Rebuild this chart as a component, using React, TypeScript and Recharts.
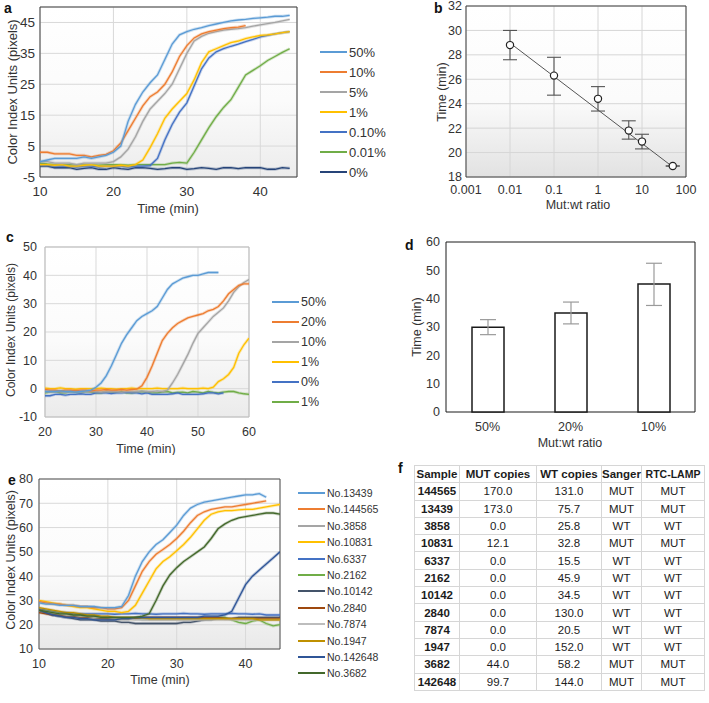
import React from 'react';
import {
  LineChart, Line, XAxis, YAxis, CartesianGrid, ReferenceArea,
  ComposedChart, Scatter, ErrorBar, BarChart, Bar,
} from 'recharts';

const FONT = '"Liberation Sans", Arial, Helvetica, sans-serif';
const TXT = '#333333';

// ---------- Panel a ----------
const timeA = [10,11,12,13,14,15,16,17,18,19,20,21,22,23,24,25,26,27,28,29,30,31,32,33,34,35,36,37,38,39,40,41,42,43,44];
const a50 = [0,0.5,1,1,1,1,1.5,1,1.5,2, 3,5,13,18.5,22.5,25.5,28,33,38,41, 42,42.8,43.3,44,44.5,45,45.5,45.8,46,46.3, 46.5,46.7,47,47,47.3];
const a10 = [3,3,2.5,2.5,2.5,2,2,1.5,2,2.3, 3.5,6,10,14,18,21,22.5,25,29,34, 37.5,40,41.3,42,42.5,43,43.3,43.5,44,null, null,null,null,null,null];
const a5 = [0,0,-0.5,-0.5,-0.5,-1,-0.5,-0.5,-0.5,-0.5, 0,1.5,4,8,13,17,19.5,22,25,30, 35,39,40.5,41.5,42,42.5,42.8,43,43.3,43.8, 44.2,44.6,45,45.5,46];
const a1 = [-1,-1,-1.2,-1,-1.5,-1.5,-1.2,-1,-1.5,-1.5, -1.5,-1.2,-1.5,-1,0.5,4.5,9,14,17,19.5, 22,26.5,32,35.5,36.5,37.5,38.5,39,39.8,40.3, 40.8,41,41.3,41.7,42];
const a01 = [-1,-1.2,-1.5,-1.5,-1.5,-1.8,-1.5,-1.5,-1.8,-1.5, -1.5,-1.5,-1.8,-1.5,-1.5,-1.3,1,7,12,16, 19,24.5,30,33.5,35.5,36.5,37.3,38,38.8,39.5, 40.3,40.8,41.3,41.7,42];
const a001 = [-0.5,-0.8,-1,-1,-1,-1.2,-1,-1,-1.2,-1, -1,-1,-1.2,-1,-1,-1,-1,-1,-0.5,-0.3, -0.5,3,7,11,14.5,17.5,20,24,28,29.5, 31,32.7,34,35.3,36.5];
const a0 = [-1.5,-1.5,-2,-2,-2,-2.5,-2.2,-2,-2.5,-2.5, -2,-2.3,-2.5,-2,-2,-2.2,-2.5,-2.3,-2,-2, -2.5,-2.3,-2,-2.2,-2.5,-2,-2,-2.3,-2,-2, -2,-2.5,-2.5,-2,-2.2];
const namesA = ['50%','10%','5%','1%','0.10%','0.01%','0%'];
const colorsA = ['#5B9BD5','#ED7D31','#A5A5A5','#FFC000','#4472C4','#70AD47','#264478'];
const valuesA = [a50,a10,a5,a1,a01,a001,a0];
const yTicksA = [-5,5,15,25,35,45];
const xTicksA = [10,20,30,40];

// ---------- Panel b ----------
const ratioB = [0.01,0.1,1,5,10,50];
const timeB = [28.8,26.3,24.4,21.8,20.9,18.9];
const errLowB = [1.2,1.6,1.0,0.7,0.6,0];
const errHighB = [1.2,1.5,1.0,0.8,0.6,0];
const trendXB = [0.01,50];
const trendYB = [28.97,18.83];
const xTicksB = [0.001,0.01,0.1,1,10,100];
const yTicksB = [18,20,22,24,26,28,30,32];

// ---------- Panel c ----------
const timeC = [20,21,22,23,24,25,26,27,28,29,30,31,32,33,34,35,36,37,38,39,40,41,42,43,44,45,46,47,48,49,50,51,52,53,54,55,56,57,58,59,60];
const c50 = [-1,-1,-1,-0.8,-1,-1,-1.2,-1,-0.8,-0.5, 0.5,2,4.5,8,12,16,19,21.5,24,25.5, 26.5,27.5,29,32,35,37,38,39,39.5,40, 40,40.5,41,41,41,null,null,null,null,null,null];
const c20 = [-0.3,-0.5,-0.5,-0.8,-0.5,-0.5,-0.7,-0.5,-0.5,-0.8, -0.5,-0.5,-0.3,-0.5,-0.5,-0.3,-0.5,-0.3,-0.2,1, 4,8,12.5,17,19.5,21.5,23,24,25,25.5, 26,26.5,27.5,28,29,31,33.5,35,36.5,37,37];
const c10 = [-1,-1.2,-1,-1,-1.3,-1,-1,-1.2,-1,-1, -1,-1.2,-1,-1,-1,-1.2,-1,-1,-1,-0.8, -1,-1,-0.8,-1,-0.5,2,5,8.5,12,16, 19.5,21.5,23.5,25.5,27,28.5,31,34,36,37.5,38.5];
const c1 = [0.2,0,0,0.3,0,0,-0.2,0,0,0, 0,0.2,0,0,-0.2,0,0,0.2,0,0, 0,0,0.2,0,0,0,0,0.2,0,0, 0,0.2,0,0.5,2.5,3.5,5,7.5,12.5,15.5,17.8];
const c0 = [-2.5,-2.5,-2,-2,-2.3,-2,-2,-1.8,-2,-2, -1.5,-1.5,-1.5,-1.7,-1.5,-1.5,-1.3,-1.5,-1.5,-1.8, -1.5,-2,-2,-2,-2,-1.8,-1.5,-2,-2,-2, -2,-1.8,-1.5,-1.5,-1.8,-1.5,null,null,null,null,null];
const c1g = [-1.5,-1.2,-1,-1.5,-1.5,-1,-1.3,-1.5,-1,-1.2, -1.5,-1.5,-1,-1.2,-1.3,-1,-1.5,-1.5,-1.2,-1, -1.3,-1.5,-1.5,-1.2,-1,-1.5,-1.3,-1.2,-1.5,-1, -1.2,-1.5,-1,-1.3,-1.5,-1.2,-1,-1,-1.5,-1.8,-2];
const namesC = ['50%','20%','10%','1%','0%','1%'];
const colorsC = ['#5B9BD5','#ED7D31','#A5A5A5','#FFC000','#4472C4','#70AD47'];
const valuesC = [c50,c20,c10,c1,c0,c1g];
const yTicksC = [-10,0,10,20,30,40,50];
const xTicksC = [20,30,40,50,60];

// ---------- Panel d ----------
const labelsD = ['50%','20%','10%'];
const timeD = [29.9,34.9,45.2];
const errLowD = [2.6,3.8,7.6];
const errHighD = [2.7,3.9,7.3];
const yTicksD = [0,10,20,30,40,50,60];

// ---------- Panel e ----------
const timeE = [10,11,12,13,14,15,16,17,18,19,20,21,22,23,24,25,26,27,28,29,30,31,32,33,34,35,36,37,38,39,40,41,42,43,44,45];
const e13439 = [29,28.5,28.5,28,28,28,27.5,27.5,27.5,27, 27,27,27.5,32,40,46,50,53,55,58, 61,65,68,69.5,70.5,71,71.5,72,72.5,73, 73.5,73.5,74,72.5,null,null];
const e144565 = [29.5,29,28.5,28.5,28,28,27.5,27.5,27,27, 26.5,26.5,27,30,36,42,46,49,51,53, 55.5,58.5,62,65,66.5,67.5,68,68.5,68.5,69, 69.5,70,70.5,71,null,null];
const e3858 = [25.5,25,24.5,24.5,24,24,23.5,23.5,23.5,23, 23,23,22.5,22.5,22.5,22,22,22,22,22, 22,22,22,22,22,22.5,22.5,22.5,22.5,22.5, 22.5,22.5,22.5,22.5,22.5,22.5];
const e10831 = [30,29.5,29,28.5,28,27.5,27,27,26.5,26, 25.5,25.5,25,25.5,28,33,38,43,46,48, 50.5,53,56,59.5,63,65.5,66.5,67,67,67.3, 67.5,67.5,68,68.5,69,69.5];
const e6337 = [26.5,26,25.5,25,25,24.5,24.5,24.5,24.5,24.5, 24.5,24.3,24.5,24.5,24.7,24.5,24.5,24.3,24.5,24.5, 24.5,24.7,24.5,24.5,24.3,24.5,24.5,24.5,24.7,24.5, 24.5,24.3,24.5,24,24,24];
const e2162 = [26,25.5,25,24.5,24,24,23.5,23.5,23,23, 22.5,22.5,22.5,22.5,22.5,22.5,22.5,22.5,22.5,22.5, 22.5,22.5,22.5,22.5,22.5,22.5,23,23,22,21, 20.5,21.5,22,20.5,19.5,20];
const e10142 = [26,25,24,23.5,23,22.5,22,22,22,21.5, 21.5,21.5,21,21,20.5,20.5,20.5,20.5,20.5,20.5, 20.5,21,21,21.5,22,22,22.5,22.5,22.5,23, 23,23,23,23,23,23];
const e2840 = [25,24.5,24,24,23.5,23.5,23,23,23,22.5, 22.5,22.5,22.5,22.5,22.5,23,23,23,23,23, 23,23,23,23,23,23,23,22.5,22.5,22.5, 22.5,22.5,22.5,22.5,22.5,22.5];
const e7874 = [26,25.5,25,24.5,24,24,23.5,23.5,23,23, 23,22.5,22.5,22.5,22,22,22,22,22,22, 22,22,22,22,22,22,22,22,22,22, 22,22,22,22,22,22];
const e1947 = [27,26.5,26,25.5,25,25,24.5,24,24,23.5, 23.5,23,23,23,23,23,22.5,22.5,22.5,22.5, 22.5,22.5,22.5,22.5,22.5,22.5,22.5,22.5,22.5,22.5, 22.5,22.5,22,22,22,22];
const e142648 = [26,25,24,23.5,23,23,22.5,22.5,22,22, 22,22,22.5,22.5,23,23,23,23,23,23, 23,23,23,23,23.5,23.5,23.5,24,25.5,31, 36.5,40,42.5,45,47.5,50];
const e3682 = [26,25.5,25,24.5,24.5,24,24,23.5,23.5,23, 23,23,23,23,23,23.5,24.5,30,36,40.5, 43.5,46,48,50,52,55.5,59.5,61.5,63,64, 64.5,65,65.5,66,66,65.5];
const namesE = ['No.13439','No.144565','No.3858','No.10831','No.6337','No.2162','No.10142','No.2840','No.7874','No.1947','No.142648','No.3682'];
const colorsE = ['#5B9BD5','#ED7D31','#A5A5A5','#FFC000','#4472C4','#70AD47','#44546A','#9E480E','#BDBDBD','#BF9000','#2F5597','#43682B'];
const valuesE = [e13439,e144565,e3858,e10831,e6337,e2162,e10142,e2840,e7874,e1947,e142648,e3682];
// draw order: flat ones first, rising ones on top
const drawOrderE = [2,4,5,6,7,8,9,10,11,3,1,0];
const yTicksE = [10,20,30,40,50,60,70,80];
const xTicksE = [10,20,30,40];

// ---------- Panel f ----------
const headersF = ['Sample','MUT copies','WT copies','Sanger','RTC-LAMP'];
const samplesF = ['144565','13439','3858','10831','6337','2162','10142','2840','7874','1947','3682','142648'];
const mutF = [170.0,173.0,0.0,12.1,0.0,0.0,0.0,0.0,0.0,0.0,44.0,99.7];
const wtF = [131.0,75.7,25.8,32.8,15.5,45.9,34.5,130.0,20.5,152.0,58.2,144.0];
const sangerF = ['MUT','MUT','WT','MUT','WT','WT','WT','WT','WT','WT','MUT','MUT'];
const lampF = ['MUT','MUT','WT','MUT','WT','WT','WT','WT','WT','WT','MUT','MUT'];

// ---------- helpers ----------
const titleLabel = (text: string, x: number, y: number, rotate: boolean, size: number) => ({
  content: () => (
    <text
      x={x}
      y={y}
      transform={rotate ? `rotate(-90 ${x} ${y})` : undefined}
      textAnchor="middle"
      dominantBaseline="central"
      fontSize={size}
      fill={TXT}
      fontFamily={FONT}
    >
      {text}
    </text>
  ),
});

const Grad = ({ id, bottom }: { id: string; bottom: string }) => (
  <defs>
    <linearGradient id={id} x1="0" y1="0" x2="0" y2="1">
      <stop offset="0%" stopColor="#ffffff" />
      <stop offset="55%" stopColor="#fbfbfb" />
      <stop offset="100%" stopColor={bottom} />
    </linearGradient>
  </defs>
);

type LegendProps = { names: string[]; colors: string[]; x: number; y: number; step: number; lineW: number; fontSize: number };
const HtmlLegend = ({ names, colors, x, y, step, lineW, fontSize }: LegendProps) => (
  <>
    {names.map((n, i) => (
      <div
        key={n + i}
        style={{
          position: 'absolute', left: x, top: y + i * step - 9, height: 18,
          display: 'flex', alignItems: 'center', fontFamily: FONT, fontSize, color: TXT, whiteSpace: 'nowrap',
        }}
      >
        <span style={{ display: 'inline-block', width: lineW, height: 2, background: colors[i] }} />
        <span style={{ marginLeft: 2 }}>{n}</span>
      </div>
    ))}
  </>
);

const PanelLetter = ({ ch, x, y }: { ch: string; x: number; y: number }) => (
  <div style={{ position: 'absolute', left: x, top: y, fontFamily: FONT, fontWeight: 700, fontSize: 14, color: '#111', lineHeight: '14px' }}>{ch}</div>
);

type LineSpec = { key: string; color: string; values: (number | null)[] };
const buildRows = (time: number[], specs: LineSpec[]) =>
  time.map((t, i) => {
    const r: Record<string, number | null> = { t };
    specs.forEach((s) => { r[s.key] = s.values[i]; });
    return r;
  });

const renderLines = (specs: LineSpec[]) =>
  specs.flatMap((s) => [
    <Line key={s.key + '-h'} dataKey={s.key} stroke={s.color} strokeOpacity={0.3} strokeWidth={3} dot={false} activeDot={false} isAnimationActive={false} />,
    <Line key={s.key} dataKey={s.key} stroke={s.color} strokeWidth={1.3} dot={false} activeDot={false} isAnimationActive={false} />,
  ]);

export default function App() {
  const specsA: LineSpec[] = valuesA.map((v, i) => ({ key: 'a' + i, color: colorsA[i], values: v })).reverse();
  const rowsA = buildRows(timeA, specsA);
  const specsC: LineSpec[] = valuesC.map((v, i) => ({ key: 'c' + i, color: colorsC[i], values: v })).reverse();
  const rowsC = buildRows(timeC, specsC);
  const specsE: LineSpec[] = drawOrderE.map((i) => ({ key: 'e' + i, color: colorsE[i], values: valuesE[i] }));
  const rowsE = buildRows(timeE, specsE);

  const rowsB = ratioB.map((x, i) => ({ x, y: timeB[i], err: [errLowB[i], errHighB[i]] }));
  const trendB = trendXB.map((x, i) => ({ x, y: trendYB[i] }));
  const rowsD = labelsD.map((l, i) => ({ label: l, v: timeD[i], err: [errLowD[i], errHighD[i]] }));

  const tickStyle = (size: number) => ({ fontSize: size, fill: TXT, fontFamily: FONT });

  const cell: React.CSSProperties = {
    border: '1px solid #d6d6d6', padding: 0, height: 16, lineHeight: '16px', textAlign: 'center', color: '#1c1c1c',
  };

  return (
    <div style={{ position: 'absolute', left: 0, top: 0, width: 709, height: 703, background: '#fff', overflow: 'hidden' }}>
      {/* Panel a */}
      <div style={{ position: 'absolute', left: 0, top: 0 }}>
        <LineChart width={300} height={216} data={rowsA} margin={{ top: 7, right: 3, bottom: 0, left: 0 }}>
          <Grad id="gA" bottom="#ececec" />
          <CartesianGrid stroke="#d9d9d9" fill="url(#gA)" />
          <XAxis dataKey="t" type="number" domain={[10, 45]} ticks={xTicksA} interval={0} allowDataOverflow
            tickLine={false} axisLine={false} tickSize={0} tickMargin={9} height={39} tick={tickStyle(13.5)}
            label={titleLabel('Time (min)', 168, 208, false, 13)} />
          <YAxis type="number" domain={[-5, 50]} ticks={yTicksA} interval={0} allowDataOverflow
            tickLine={false} axisLine={false} tickSize={0} tickMargin={5} width={40} tick={tickStyle(13.5)}
            label={titleLabel('Color Index Units (pixels)', 12, 92, true, 13)} />
          {renderLines(specsA)}
          <ReferenceArea x1={10} x2={45} y1={-5} y2={50} fill="none" stroke="#404040" strokeWidth={1} ifOverflow="visible" />
        </LineChart>
      </div>
      <PanelLetter ch="a" x={4} y={1} />
      <HtmlLegend names={namesA} colors={colorsA} x={320} y={52} step={20} lineW={27} fontSize={13} />

      {/* Panel b */}
      <div style={{ position: 'absolute', left: 400, top: 0 }}>
        <ComposedChart width={300} height={216} margin={{ top: 6, right: 14, bottom: 0, left: 0 }}>
          <Grad id="gB" bottom="#e2e2e2" />
          <CartesianGrid stroke="#d6d6d6" fill="url(#gB)" />
          <XAxis dataKey="x" type="number" scale="log" domain={[0.001, 100]} ticks={xTicksB} interval={0} allowDataOverflow
            tickLine={false} axisLine={false} tickSize={0} tickMargin={8} height={39} tick={tickStyle(12.5)}
            tickFormatter={(v: number) => String(v)}
            label={titleLabel('Mut:wt ratio', 178, 205, false, 12.5)} />
          <YAxis type="number" domain={[18, 32]} ticks={yTicksB} interval={0} allowDataOverflow
            tickLine={false} axisLine={false} tickSize={0} tickMargin={4} width={66} tick={tickStyle(12.5)}
            label={titleLabel('Time (min)', 42, 92, true, 12.5)} />
          <Line data={trendB} dataKey="y" stroke="#555" strokeWidth={1} dot={false} activeDot={false} isAnimationActive={false} />
          <Scatter data={rowsB} dataKey="y" isAnimationActive={false}
            shape={(p: any) => <circle cx={p.cx} cy={p.cy} r={3.6} fill="#fff" stroke="#222" strokeWidth={1.2} />}>
            <ErrorBar dataKey="err" direction="y" width={7} stroke="#555" strokeWidth={1.1} isAnimationActive={false} />
          </Scatter>
          <ReferenceArea x1={0.001} x2={100} y1={18} y2={32} fill="none" stroke="#404040" strokeWidth={1} ifOverflow="visible" />
        </ComposedChart>
      </div>
      <PanelLetter ch="b" x={434} y={1} />

      {/* Panel c */}
      <div style={{ position: 'absolute', left: 0, top: 230 }}>
        <LineChart width={300} height={225} data={rowsC} margin={{ top: 17, right: 51, bottom: 0, left: 0 }}>
          <Grad id="gC" bottom="#ebebeb" />
          <CartesianGrid stroke="#d9d9d9" fill="url(#gC)" />
          <XAxis dataKey="t" type="number" domain={[20, 60]} ticks={xTicksC} interval={0} allowDataOverflow
            tickLine={false} axisLine={false} tickSize={0} tickMargin={10} height={38} tick={tickStyle(12.5)}
            label={titleLabel('Time (min)', 146, 219, false, 12.5)} />
          <YAxis type="number" domain={[-10, 50]} ticks={yTicksC} interval={0} allowDataOverflow
            tickLine={false} axisLine={false} tickSize={0} tickMargin={8} width={45} tick={tickStyle(12.5)}
            label={titleLabel('Color Index Units (pixels)', 11, 100, true, 12)} />
          {renderLines(specsC)}
          <ReferenceArea x1={20} x2={60} y1={-10} y2={50} fill="none" stroke="#bdbdbd" strokeWidth={1} ifOverflow="visible" />
        </LineChart>
      </div>
      <PanelLetter ch="c" x={6} y={230} />
      <HtmlLegend names={namesC} colors={colorsC} x={272} y={302} step={20} lineW={27} fontSize={12.5} />

      {/* Panel d */}
      <div style={{ position: 'absolute', left: 400, top: 230 }}>
        <BarChart width={300} height={225} data={rowsD} margin={{ top: 12, right: 5, bottom: 0, left: 0 }}>
          <XAxis dataKey="label" type="category" tickLine={false} axisLine={false} tickSize={0} tickMargin={10} height={43}
            tick={tickStyle(12.5)} label={titleLabel('Mut:wt ratio', 170, 213, false, 12.5)} />
          <YAxis type="number" domain={[0, 60]} ticks={yTicksD} interval={0}
            tickLine={false} axisLine={false} tickSize={0} tickMargin={6} width={46} tick={tickStyle(12.5)}
            label={titleLabel('Time (min)', 17, 97, true, 12.5)} />
          <CartesianGrid stroke="#1a1a1a"
            horizontalCoordinatesGenerator={({ offset }: any) => [offset.top, offset.top + offset.height]}
            verticalCoordinatesGenerator={({ offset }: any) => [offset.left, offset.left + offset.width]} />
          <Bar dataKey="v" fill="#ffffff" stroke="#1a1a1a" strokeWidth={1.5} barSize={32} isAnimationActive={false}>
            <ErrorBar dataKey="err" width={8} stroke="#9a9a9a" strokeWidth={1.2} isAnimationActive={false} />
          </Bar>
        </BarChart>
      </div>
      <PanelLetter ch="d" x={405} y={238} />

      {/* Panel e */}
      <div style={{ position: 'absolute', left: 0, top: 460 }}>
        <LineChart width={300} height={243} data={rowsE} margin={{ top: 19, right: 20, bottom: 0, left: 0 }}>
          <Grad id="gE" bottom="#e9e9e9" />
          <CartesianGrid stroke="#d9d9d9" fill="url(#gE)" />
          <XAxis dataKey="t" type="number" domain={[10, 45]} ticks={xTicksE} interval={0} allowDataOverflow
            tickLine={false} axisLine={false} tickSize={0} tickMargin={10} height={54} tick={tickStyle(12.5)}
            label={titleLabel('Time (min)', 160, 220, false, 12.5)} />
          <YAxis type="number" domain={[10, 80]} ticks={yTicksE} interval={0} allowDataOverflow
            tickLine={false} axisLine={false} tickSize={0} tickMargin={6} width={39} tick={tickStyle(12.5)}
            label={titleLabel('Color Index Units (pixels)', 11, 100, true, 12.5)} />
          {renderLines(specsE)}
          <ReferenceArea x1={10} x2={45} y1={10} y2={80} fill="none" stroke="#555555" strokeWidth={1} ifOverflow="visible" />
        </LineChart>
      </div>
      <PanelLetter ch="e" x={8} y={473} />
      <HtmlLegend names={namesE} colors={colorsE} x={298} y={493} step={16.4} lineW={27} fontSize={10.5} />

      {/* Panel f */}
      <PanelLetter ch="f" x={398} y={461} />
      <table style={{
        position: 'absolute', left: 414, top: 465, width: 290, borderCollapse: 'collapse', tableLayout: 'fixed',
        fontFamily: FONT, fontSize: 11.5, background: '#fff',
      }}>
        <colgroup>
          <col style={{ width: 45 }} />
          <col style={{ width: 77 }} />
          <col style={{ width: 65 }} />
          <col style={{ width: 40 }} />
          <col style={{ width: 63 }} />
        </colgroup>
        <tbody>
          <tr style={{ height: 17.3 }}>
            {headersF.map((h, i) => (
              <td key={h} style={{ ...cell, fontWeight: 700, fontSize: i === 4 ? 10.5 : 11.5, whiteSpace: 'nowrap' }}>{h}</td>
            ))}
          </tr>
          {samplesF.map((s, i) => (
            <tr key={s} style={{ height: 17.3 }}>
              <td style={{ ...cell, fontWeight: 700 }}>{s}</td>
              <td style={cell}>{mutF[i].toFixed(1)}</td>
              <td style={cell}>{wtF[i].toFixed(1)}</td>
              <td style={cell}>{sangerF[i]}</td>
              <td style={cell}>{lampF[i]}</td>
            </tr>
          ))}
        </tbody>
      </table>
    </div>
  );
}
